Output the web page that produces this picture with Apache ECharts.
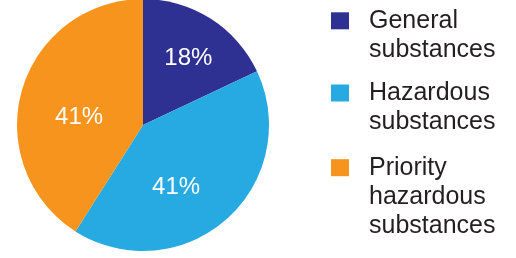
<!DOCTYPE html>
<html>
<head>
<meta charset="utf-8">
<script src="https://cdn.jsdelivr.net/npm/echarts@6/dist/echarts.min.js"></script>
<style>
html,body{margin:0;padding:0;background:#fff;}
#chart{width:516px;height:258px;}
</style>
</head>
<body>
<div id="chart"></div>
<script>
const categories = ['General\nsubstances', 'Hazardous\nsubstances', 'Priority\nhazardous\nsubstances'];
const shares = [18, 41, 41];
const colors = ['#2e3192', '#27aae1', '#f7941d'];

// per-label nudges from the default "inside" spot
const labelNudges = [[10, -10.5], [-10.6, 12.7], [-0.5, 10.5]];
// legend blocks: top of each block
const legendTops = [-22.7, 49.5, 95.2];

const chart = echarts.init(document.getElementById('chart'), null, {renderer: 'canvas'});

const legends = categories.map((name, i) => {
  const lines = name.split('\n').length;
  return {
    data: [name],
    orient: 'vertical',
    left: 331,
    top: legendTops[i],
    padding: 0,
    itemWidth: 18,
    itemHeight: 17,
    icon: 'rect',
    selectedMode: false,
    // leading empty lines keep the square level with the first text line
    formatter: function (n) { return '\n'.repeat(lines - 1) + n; },
    textStyle: {
      fontFamily: 'Liberation Sans, Arial, sans-serif',
      fontSize: 25,
      lineHeight: 29,
      color: '#231f20',
      padding: [0, 0, 0, 15],
      backgroundColor: 'rgba(0,0,0,0)'
    }
  };
});

chart.setOption({
  animation: false,
  color: colors,
  legend: legends,
  series: [{
    type: 'pie',
    center: [143, 125],
    radius: 126,
    startAngle: 90,
    clockwise: true,
    silent: true,
    itemStyle: {borderWidth: 0},
    label: {
      show: true,
      position: 'inside',
      formatter: '{c}%',
      color: '#ffffff',
      fontFamily: 'Liberation Sans, Arial, sans-serif',
      fontSize: 24
    },
    labelLine: {show: false},
    labelLayout: function (params) {
      const n = labelNudges[params.dataIndex];
      return {dx: n[0], dy: n[1]};
    },
    data: categories.map((name, i) => ({name: name, value: shares[i]}))
  }]
});
</script>
</body>
</html>
